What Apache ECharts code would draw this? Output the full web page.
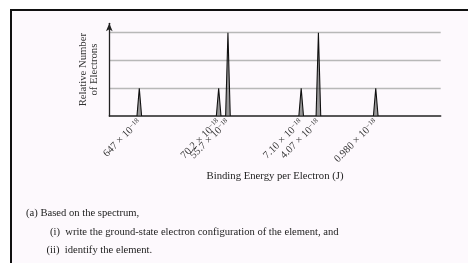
<!DOCTYPE html>
<html>
<head>
<meta charset="utf-8">
<script src="https://cdn.jsdelivr.net/npm/echarts@6/dist/echarts.min.js"></script>
<style>
  html, body { margin: 0; padding: 0; background: #fff; }
  #main { width: 468px; height: 263px; }
</style>
</head>
<body>
<div id="main"></div>
<script>
// peak positions along the (non-linear) energy axis, 0..100 of axis length
var peakPos = [9.05, 33.0, 35.8, 57.9, 63.1, 80.4];
// relative number of electrons
var peakHeight = [1, 1, 3, 1, 3, 1];
// tick labels (mantissa, all x 10^-18 J)
var peakLabel = ['647', '70.2', '55.7', '7.10', '4.07', '0.980'];

var halfWidth = 0.7; // spike half-width at the base

// build spike outline from the peaks
var spikeData = [];
for (var i = 0; i < peakPos.length; i++) {
    spikeData.push([peakPos[i] - halfWidth, 0]);
    spikeData.push([peakPos[i], peakHeight[i]]);
    spikeData.push([peakPos[i] + halfWidth, 0]);
    spikeData.push([peakPos[i], null]);
}

var serif = '"Liberation Serif", "DejaVu Serif", serif';
var txtFont = '10.6px ' + serif;

var myChart = echarts.init(document.getElementById('main'));
myChart.setOption({
    backgroundColor: '#ffffff',
    animation: false,
    grid: {
        left: 109.3,
        right: 27.3,
        top: 23.3,
        bottom: 147
    },
    graphic: [
        {
            type: 'rect',
            z: -10,
            shape: { x: 11, y: 10, width: 470, height: 270 },
            style: { fill: '#fdf9fd', stroke: '#111', lineWidth: 2 }
        },
        {
            type: 'text', left: 26, top: 208,
            style: { text: '(a) Based on the spectrum,', font: txtFont, fill: '#222' }
        },
        {
            type: 'text', left: 50, top: 226.5,
            style: { text: '(i)  write the ground-state electron configuration of the element, and', font: txtFont, fill: '#222' }
        },
        {
            type: 'text', left: 46.5, top: 245,
            style: { text: '(ii)  identify the element.', font: txtFont, fill: '#222' }
        }
    ],
    xAxis: {
        type: 'value',
        min: 0,
        max: 100,
        name: 'Binding Energy per Electron (J)',
        nameLocation: 'middle',
        nameGap: 55,
        nameTextStyle: { fontFamily: serif, fontSize: 10.7, color: '#222' },
        axisLine: { show: true, lineStyle: { color: '#222', width: 1.5 } },
        axisTick: { show: false },
        splitLine: { show: false },
        axisLabel: {
            customValues: peakPos,
            rotate: 45,
            margin: 5,
            color: '#333',
            formatter: function (v) {
                var k = peakPos.indexOf(v);
                return '{n|' + peakLabel[k] + ' \u00d7 10}{s|\u221218}';
            },
            rich: {
                n: { fontFamily: serif, fontSize: 10.5, color: '#333' },
                s: { fontFamily: serif, fontSize: 7, color: '#333', verticalAlign: 'top' }
            }
        }
    },
    yAxis: {
        type: 'value',
        min: 0,
        max: 3.34,
        interval: 1,
        name: 'Relative Number\nof Electrons',
        nameLocation: 'middle',
        nameRotate: 90,
        nameGap: 9,
        nameTextStyle: { fontFamily: serif, fontSize: 10.7, color: '#333', lineHeight: 11.5 },
        axisLine: {
            show: true,
            symbol: ['none', 'arrow'],
            symbolSize: [5, 8],
            lineStyle: { color: '#222', width: 1.3 }
        },
        axisTick: { show: false },
        axisLabel: { show: false },
        splitLine: {
            show: true,
            showMinLine: false,
            showMaxLine: false,
            lineStyle: { color: '#b8b8b8', width: 1.3 }
        }
    },
    series: [
        {
            type: 'line',
            data: spikeData,
            showSymbol: false,
            connectNulls: false,
            lineStyle: { color: '#111', width: 1.1 },
            areaStyle: { color: '#555', opacity: 0.6, origin: 0 },
            z: 5
        }
    ]
});
</script>
</body>
</html>
